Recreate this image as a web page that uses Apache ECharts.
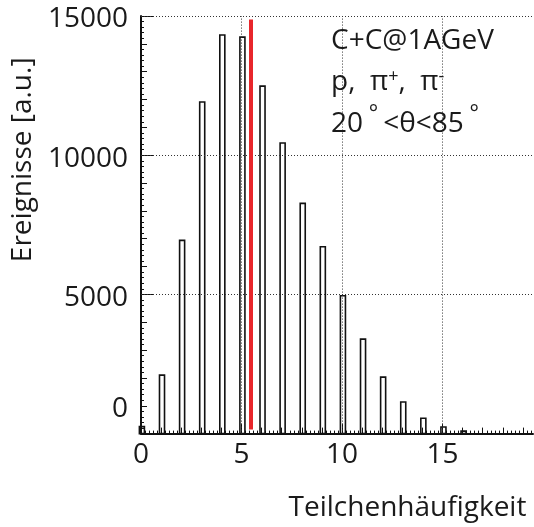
<!DOCTYPE html>
<html><head><meta charset="utf-8">
<script src="https://cdn.jsdelivr.net/npm/echarts@6/dist/echarts.min.js"></script>
<style>html,body{margin:0;padding:0;background:#fff}#c{width:534px;height:527px}</style>
</head><body><div id="c"></div>
<script>
// ---- data ----
const multiplicity = [0, 1, 2, 3, 4, 5, 6, 7, 8, 9, 10, 11, 12, 13, 14, 15, 16];
const events = [250, 2100, 6940, 11910, 14320, 14240, 12480, 10440, 8270, 6710, 4950, 3395, 2030, 1134, 549, 237, 90];
const xTickLabels = [0, 5, 10, 15];
const yTickLabels = [0, 5000, 10000, 15000];
const xGridValues = [5, 10, 15];
const yGridValues = [5000, 10000, 15000];
const meanMultiplicity = 5.46;
const meanLineRange = [150, 14870];
const xAxisTitle = 'Teilchenhäufigkeit';
const yAxisTitle = 'Ereignisse [a.u.]';
const infoLines = ['C+C@1AGeV', 'p,  π{sup|+},  π{sup|-}', '20{deg| °}<θ<85{deg| °}'];

// ---- chart ----
const FONT = 'Open Sans';
const TXT = '#1a1a1a';
const FS = 28;
const XMAX = 19.5, YMAX = 15000;
const minorInts = [];
for (let i = 0; i <= 19; i++) minorInts.push(i);

const chart = echarts.init(document.getElementById('c'), null, {renderer: 'canvas'});
const labelStyle = {fontFamily: FONT, fontSize: FS, color: TXT};

chart.setOption({
  animation: false,
  backgroundColor: '#fff',
  grid: {left: 141, top: 16, width: 392, height: 417.6, containLabel: false},
  xAxis: [
    {type: 'value', min: 0, max: XMAX, interval: 1,
     axisLine: {show: true, onZero: false, lineStyle: {color: '#111', width: 2}},
     axisTick: {show: true, inside: true, length: 6, customValues: minorInts, lineStyle: {color: '#111', width: 1}},
     minorTick: {show: true, splitNumber: 5, length: 3, lineStyle: {color: '#111', width: 1}},
     axisLabel: {show: false}, splitLine: {show: false}},
    {type: 'value', min: 0, max: XMAX, position: 'bottom', offset: 0,
     axisLine: {show: false},
     axisTick: {show: true, inside: true, length: 10, customValues: xTickLabels, lineStyle: {color: '#111', width: 1}},
     axisLabel: Object.assign({show: true, margin: 7, customValues: xTickLabels}, labelStyle),
     splitLine: {show: false},
     name: xAxisTitle, nameLocation: 'middle', nameGap: 60,
     nameTextStyle: {fontFamily: FONT, fontSize: FS, color: TXT, padding: [0, 0, 0, 141]}}
  ],
  yAxis: [
    {type: 'value', min: 0, max: YMAX, interval: 1000, position: 'left',
     axisLine: {show: true, onZero: false, lineStyle: {color: '#111', width: 2}},
     axisTick: {show: true, inside: true, length: 6, lineStyle: {color: '#111', width: 1}},
     minorTick: {show: true, splitNumber: 5, length: 3, lineStyle: {color: '#111', width: 1}},
     axisLabel: {show: false}, splitLine: {show: false}},
    {type: 'value', min: 0, max: YMAX, position: 'left', offset: 0,
     axisLine: {show: false},
     axisTick: {show: true, inside: true, length: 12, customValues: yTickLabels, lineStyle: {color: '#111', width: 1}},
     axisLabel: Object.assign({show: true, margin: 13, customValues: yTickLabels,
       formatter: v => v === 0 ? '{z|0}' : '{n|' + v + '}',
       rich: {z: Object.assign({padding: [0, 0, 50, 0]}, labelStyle), n: Object.assign({padding: [7, 0, 0, 0]}, labelStyle)}
     }, labelStyle),
     splitLine: {show: false},
     name: yAxisTitle, nameLocation: 'middle', nameRotate: 90, nameGap: 98,
     nameTextStyle: {fontFamily: FONT, fontSize: FS, color: TXT, padding: [0, 0, 0, 130]}}
  ],
  graphic: [{
    type: 'text', left: 331, top: 20, z: 100,
    style: {
      text: infoLines.join('\n'),
      font: FS + 'px "Open Sans"', fill: TXT, lineHeight: 41.5,
      rich: {
        sup: {fontFamily: FONT, fontSize: 18, fill: TXT, verticalAlign: 'top', padding: [6, 0, 0, 0], lineHeight: 20},
        deg: {fontFamily: FONT, fontSize: 22, fill: TXT, verticalAlign: 'top', padding: [0, 5, 0, 0], lineHeight: 22}
      }
    }
  }],
  series: [{
    type: 'custom',
    xAxisIndex: 0, yAxisIndex: 0,
    data: multiplicity.map((m, i) => [m, events[i]]),
    renderItem: function (params, api) {
      const x = api.value(0), y = api.value(1);
      const p0 = api.coord([x - 0.08, y]);
      const p1 = api.coord([x + 0.17, 0]);
      return {type: 'rect', shape: {x: p0[0], y: p0[1], width: p1[0] - p0[0], height: p1[1] - p0[1]},
        style: {fill: 'none', stroke: '#111', lineWidth: 1.6}};
    },
    markLine: {
      silent: true, symbol: 'none', label: {show: false}, animation: false,
      lineStyle: {type: [1, 2], color: '#333', width: 1},
      data: xGridValues.map(v => ({xAxis: v}))
        .concat(yGridValues.map(v => ({yAxis: v})))
        .concat([[{coord: [meanMultiplicity, meanLineRange[0]], lineStyle: {type: 'solid', color: '#e8262b', width: 4}},
                  {coord: [meanMultiplicity, meanLineRange[1]]}]])
    }
  }]
});
</script></body></html>
